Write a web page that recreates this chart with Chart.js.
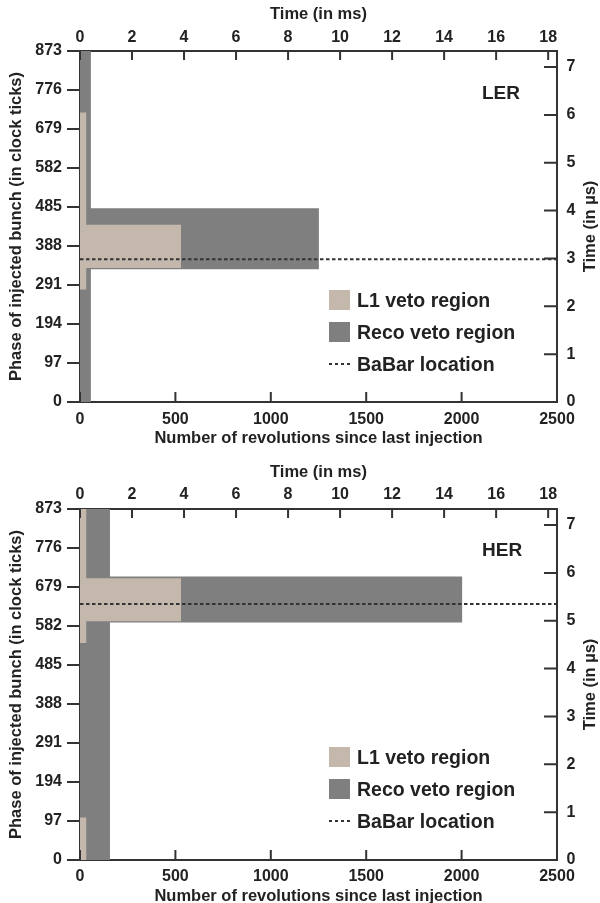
<!DOCTYPE html>
<html>
<head>
<meta charset="utf-8">
<script src="https://cdn.jsdelivr.net/npm/chart.js@4"></script>
<style>
  body { margin: 0; width: 600px; height: 903px; overflow: hidden; background: #fff; position: relative;
         font-family: "Liberation Sans", Arial, sans-serif; font-weight: bold; color: #222; }
  canvas { position: absolute; left: 0; }
  #topChart { top: 0; }
  #botChart { top: 451px; }
  .tag { position: absolute; font-size: 19px; line-height: 22px; }
  .legend { position: absolute; left: 329px; font-size: 19.5px; }
  .row { height: 32px; display: flex; align-items: center; }
  .sw { width: 21px; height: 20px; margin-right: 7px; }
  .dash { width: 22px; height: 2px; margin-right: 6px;
          background: repeating-linear-gradient(to right, #333 0 3.5px, transparent 3.5px 6px); }
</style>
</head>
<body>
<canvas id="topChart" width="600" height="451"></canvas>
<canvas id="botChart" width="600" height="460"></canvas>

<div class="tag" style="left:482px; top:82px;">LER</div>
<div class="tag" style="left:482px; top:539px;">HER</div>

<div class="legend" style="top:284px;">
  <div class="row"><div class="sw" style="background:#c4b8ad"></div>L1 veto region</div>
  <div class="row"><div class="sw" style="background:#7f7f7f"></div>Reco veto region</div>
  <div class="row"><div class="dash"></div>BaBar location</div>
</div>
<div class="legend" style="top:741px;">
  <div class="row"><div class="sw" style="background:#c4b8ad"></div>L1 veto region</div>
  <div class="row"><div class="sw" style="background:#7f7f7f"></div>Reco veto region</div>
  <div class="row"><div class="dash"></div>BaBar location</div>
</div>

<script>
// veto rectangles: [first revolution, last revolution, low phase, high phase]
const lerL1 = [[0, 34, 280, 720], [0, 530, 333, 441]];
const lerReco = [[0, 57, 0, 873], [0, 1252, 330, 482]];
const lerBabar = 355;

const herL1 = [[0, 34, 540, 873], [0, 34, 0, 106], [0, 530, 594, 701]];
const herReco = [[0, 157, 0, 873], [0, 2004, 591, 705]];
const herBabar = 637;

// axes
const revMax = 2500;       // revolutions
const phaseMax = 873;      // clock ticks
const phaseStep = 97;
const msMax = 18.34;       // 2500 turns in ms
const usMax = 7.336;       // 873 ticks in us

const L1_COLOR = '#c4b8ad';
const RECO_COLOR = '#7f7f7f';
const INK = '#222';
const AXIS = '#333';
const FONT = '"Liberation Sans", Arial, sans-serif';

function rectSet(r, color) {
  return {
    type: 'line',
    data: [{ x: r[0], y: r[3] }, { x: r[1], y: r[3] }],
    fill: { value: r[2] },
    backgroundColor: color,
    borderColor: 'rgba(0,0,0,0)',
    borderWidth: 1,
    pointRadius: 0
  };
}

function babarSet(y) {
  return {
    type: 'line',
    data: [{ x: 0, y: y }, { x: revMax, y: y }],
    borderColor: AXIS,
    borderWidth: 2,
    borderDash: [3.5, 2.5],
    fill: false,
    pointRadius: 0
  };
}

// ticks pointing into the plot for bottom, top and right axes
const inTicks = {
  id: 'inTicks',
  afterDraw(chart) {
    const ctx = chart.ctx;
    const { x, xTop, yRight } = chart.scales;
    ctx.save();
    ctx.strokeStyle = AXIS;
    ctx.lineWidth = 2;
    ctx.beginPath();
    x.ticks.forEach((t, i) => {
      const p = x.getPixelForTick(i);
      ctx.moveTo(p, x.top); ctx.lineTo(p, x.top - 10);
    });
    xTop.ticks.forEach((t, i) => {
      const p = xTop.getPixelForTick(i);
      ctx.moveTo(p, xTop.bottom); ctx.lineTo(p, xTop.bottom + 9);
    });
    yRight.ticks.forEach((t, i) => {
      const p = yRight.getPixelForTick(i);
      ctx.moveTo(yRight.left, p); ctx.lineTo(yRight.left - 13, p);
    });
    ctx.stroke();

    // right axis title, reading upwards
    const a = chart.chartArea;
    ctx.translate(yRight.right - 10, (a.top + a.bottom) / 2);
    ctx.rotate(-Math.PI / 2);
    ctx.font = 'bold 16.5px ' + FONT;
    ctx.fillStyle = INK;
    ctx.textAlign = 'center';
    ctx.textBaseline = 'middle';
    ctx.fillText('Time (in \u00b5s)', 0, 0);
    ctx.restore();
  }
};

const plain = v => String(v);

function makeChart(id, l1, reco, babar, box) {
  const tickFont = { family: FONT, size: 16, weight: 'bold' };
  const titleFont = { family: FONT, size: 16.5, weight: 'bold' };
  const datasets = [babarSet(babar)]
    .concat(l1.map(r => rectSet(r, L1_COLOR)))
    .concat(reco.map(r => rectSet(r, RECO_COLOR)));

  return new Chart(document.getElementById(id), {
    type: 'line',
    data: { datasets },
    options: {
      responsive: false,
      animation: false,
      layout: { padding: 0 },
      plugins: { legend: { display: false }, tooltip: { enabled: false } },
      scales: {
        x: {
          type: 'linear', position: 'bottom', min: 0, max: revMax,
          ticks: { stepSize: 500, autoSkip: false, font: tickFont, color: INK, padding: box.bottomPad,
                   maxRotation: 0, callback: plain },
          grid: { drawOnChartArea: false, drawTicks: false },
          border: { color: AXIS, width: 2 },
          title: { display: true, text: 'Number of revolutions since last injection', font: titleFont, color: INK,
                   padding: { top: 0, bottom: box.bottomTitlePad } },
          afterFit: s => { s.height = box.bottom; }
        },
        xTop: {
          type: 'linear', position: 'top', min: 0, max: msMax,
          ticks: { stepSize: 2, includeBounds: false, autoSkip: false, font: tickFont, color: INK, padding: box.topPad,
                   maxRotation: 0, callback: plain },
          grid: { drawOnChartArea: false, drawTicks: false },
          border: { color: AXIS, width: 2 },
          title: { display: true, text: 'Time (in ms)', font: titleFont, color: INK,
                   padding: { top: box.topTitlePad, bottom: 0 } },
          afterFit: s => { s.height = box.top; }
        },
        y: {
          type: 'linear', position: 'left', min: 0, max: phaseMax,
          ticks: { stepSize: phaseStep, autoSkip: false, font: tickFont, color: INK, padding: 5, callback: plain },
          grid: { drawOnChartArea: false, tickLength: 13, color: AXIS, lineWidth: 2 },
          border: { color: AXIS, width: 2 },
          title: { display: true, text: 'Phase of injected bunch (in clock ticks)', font: titleFont, color: INK,
                   padding: { top: 6.5, bottom: 0 } },
          afterFit: s => { s.width = 80; }
        },
        yRight: {
          type: 'linear', position: 'right', min: 0, max: usMax,
          ticks: { stepSize: 1, includeBounds: false, autoSkip: false, font: tickFont, color: INK, padding: 9.5,
                   callback: plain },
          grid: { drawOnChartArea: false, drawTicks: false },
          border: { color: AXIS, width: 2 },
          afterFit: s => { s.width = 43; }
        }
      }
    },
    plugins: [inTicks]
  });
}

makeChart('topChart', lerL1, lerReco, lerBabar,
  { top: 51, bottom: 49, topPad: 4, bottomPad: 8, topTitlePad: 5, bottomTitlePad: 3 });
makeChart('botChart', herL1, herReco, herBabar,
  { top: 58, bottom: 51, topPad: 4.4, bottomPad: 7, topTitlePad: 12, bottomTitlePad: 4.4 });
</script>
</body>
</html>
